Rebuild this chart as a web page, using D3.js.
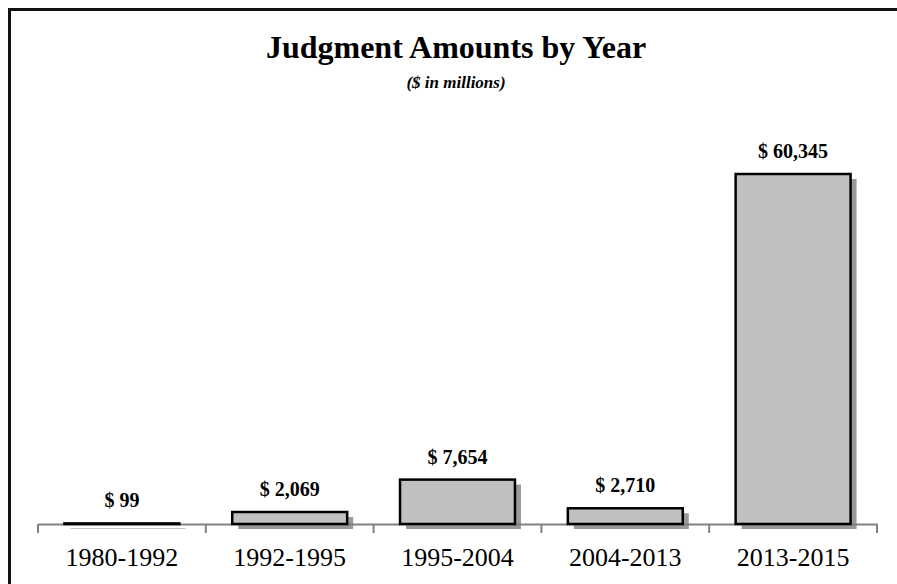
<!DOCTYPE html>
<html>
<head>
<meta charset="utf-8">
<script src="https://cdn.jsdelivr.net/npm/d3@7"></script>
<style>
  html, body { margin: 0; padding: 0; background: #fff; }
  svg { display: block; }
</style>
</head>
<body>
<svg id="chart" width="897" height="584"></svg>
<script>
const categories = ["1980-1992", "1992-1995", "1995-2004", "2004-2013", "2013-2015"];
const values = [99, 2069, 7654, 2710, 60345];
const valueLabels = ["$ 99", "$ 2,069", "$ 7,654", "$ 2,710", "$ 60,345"];
const title = "Judgment Amounts by Year";
const subtitle = "($ in millions)";

const svg = d3.select("#chart");
const serif = "'Liberation Serif', 'Times New Roman', Times, serif";

// frame
svg.append("rect")
  .attr("x", 9.5).attr("y", 9.5)
  .attr("width", 1000).attr("height", 1000)
  .attr("fill", "none").attr("stroke", "#111").attr("stroke-width", 3);

const axisY = 524;
const x = d3.scaleBand().domain(categories).range([38, 877])
  .paddingInner(0.315).paddingOuter(0.1575);
const y = d3.scaleLinear().domain([0, 60345]).range([axisY, 174]);

// title
svg.append("text")
  .attr("x", 456).attr("y", 58)
  .attr("text-anchor", "middle")
  .attr("font-family", serif).attr("font-weight", "bold").attr("font-size", 32)
  .text(title);
svg.append("text")
  .attr("x", 456).attr("y", 88)
  .attr("text-anchor", "middle")
  .attr("font-family", serif).attr("font-weight", "bold").attr("font-style", "italic").attr("font-size", 17)
  .text(subtitle);

const data = categories.map((c, i) => ({ c, v: values[i], label: valueLabels[i] }));

// shadows
svg.append("g").selectAll("rect").data(data).enter().append("rect")
  .attr("x", d => x(d.c) + 6)
  .attr("y", d => y(d.v) + 5)
  .attr("width", x.bandwidth())
  .attr("height", d => Math.max(0, axisY - y(d.v)))
  .attr("fill", "#999999");

// axis
const axis = d3.axisBottom(x).tickSize(0).tickFormat("");
const axG = svg.append("g").attr("transform", `translate(0,${axisY})`).call(axis);
axG.select(".domain").attr("stroke", "#808080").attr("stroke-width", 2);
const tickPos = d3.range(categories.length + 1).map(i => 38 + i * x.step());
axG.selectAll(".sep").data(tickPos).enter().append("line")
  .attr("x1", d => d).attr("x2", d => d)
  .attr("y1", 0).attr("y2", 9)
  .attr("stroke", "#808080").attr("stroke-width", 2);

// bars
svg.append("g").selectAll("rect").data(data).enter().append("rect")
  .attr("x", d => x(d.c))
  .attr("y", d => y(d.v))
  .attr("width", x.bandwidth())
  .attr("height", d => Math.max(0.5, axisY - y(d.v)))
  .attr("fill", "#c0c0c0")
  .attr("stroke", "#000").attr("stroke-width", 2.5);

// value labels
svg.append("g").selectAll("text").data(data).enter().append("text")
  .attr("x", d => x(d.c) + x.bandwidth() / 2)
  .attr("y", d => y(d.v) - 16)
  .attr("text-anchor", "middle")
  .attr("font-family", serif).attr("font-weight", "bold").attr("font-size", 20)
  .attr("xml:space", "preserve")
  .text(d => d.label);

// category labels
svg.append("g").selectAll("text").data(data).enter().append("text")
  .attr("x", d => x(d.c) + x.bandwidth() / 2)
  .attr("y", 566)
  .attr("text-anchor", "middle")
  .attr("font-family", serif).attr("font-size", 26)
  .text(d => d.c);
</script>
</body>
</html>
